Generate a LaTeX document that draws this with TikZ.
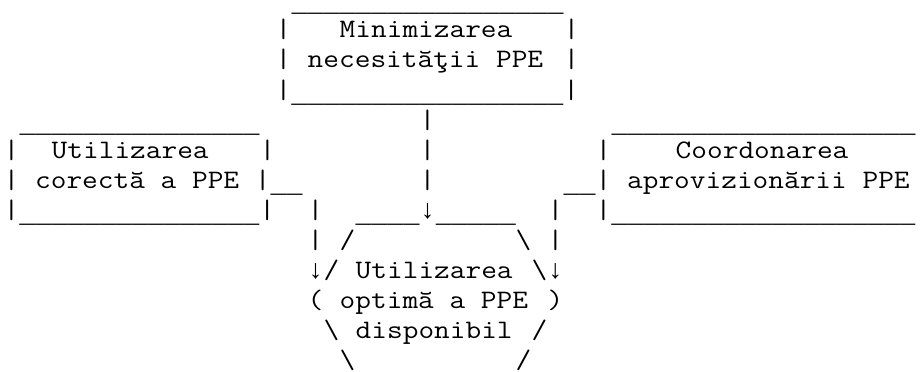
\documentclass[tikz,border=0pt]{standalone}
\usepackage{fontspec}
\usepackage{graphicx}
\newfontfamily\linefont{Liberation Mono}
\newcommand\cw[1]{\scalebox{1.142857}[1]{#1}}
\newcommand\unds[1]{\smash{\raisebox{-3pt}{\linefont\foreach \n in {1,...,#1}{\_}}}}
\newcommand\dn{{\linefont ↓}}

\begin{document}
\begin{tikzpicture}[x=12pt, y=22.5pt,
	ascii/.style={anchor=base west, inner sep=0pt, outer sep=0pt, font=\ttfamily\fontsize{20pt}{22.5pt}\selectfont}]
		\useasboundingbox (-0.2333,0.2667) rectangle (57.2667,-12.1);
		\node[ascii] (mintop) at (18,0) {\unds{17}};
		\node[ascii] (minleftA) at (17,-1) {\cw{|}};
		\node[ascii] (mintxtA) at (21,-1) {\cw{Minimizarea}};
		\node[ascii] (minrightA) at (35,-1) {\cw{|}};
		\node[ascii] (minleftB) at (17,-2) {\cw{|}};
		\node[ascii] (mintxtB) at (19,-2) {\cw{necesităţii PPE}};
		\node[ascii] (minrightB) at (35,-2) {\cw{|}};
		\node[ascii] (minbot) at (17,-3) {\cw{|}\unds{17}\cw{|}};
		\node[ascii] (cortop) at (1,-4) {\unds{15}};
		\node[ascii] (midA) at (26,-4) {\cw{|}};
		\node[ascii] (coordtop) at (38,-4) {\unds{19}};
		\node[ascii] (corleftA) at (0,-5) {\cw{|}};
		\node[ascii] (cortxtA) at (3,-5) {\cw{Utilizarea}};
		\node[ascii] (corrightA) at (16,-5) {\cw{|}};
		\node[ascii] (midB) at (26,-5) {\cw{|}};
		\node[ascii] (coordleftA) at (37,-5) {\cw{|}};
		\node[ascii] (coordtxtA) at (42,-5) {\cw{Coordonarea}};
		\node[ascii] (cortxtB) at (0,-6) {\cw{| corectă a PPE |}\unds{2}};
		\node[ascii] (midC) at (26,-6) {\cw{|}};
		\node[ascii] (coordtxtB) at (35,-6) {\unds{2}\cw{| aprovizionării PPE}};
		\node[ascii] (corbot) at (0,-7) {\cw{|}\unds{15}\cw{|}};
		\node[ascii] (leftA) at (19,-7) {\cw{|}};
		\node[ascii] (opttop) at (22,-7) {\unds{4}\dn\unds{5}};
		\node[ascii] (rightA) at (34,-7) {\cw{|}};
		\node[ascii] (coordbot) at (37,-7) {\cw{|}\unds{19}};
		\node[ascii] (leftB) at (19,-8) {\cw{|}};
		\node[ascii] (optleftA) at (21,-8) {\cw{/}};
		\node[ascii] (optrightA) at (32,-8) {\cw{\textbackslash}};
		\node[ascii] (rightB) at (34,-8) {\cw{|}};
		\node[ascii] (optleftB) at (19,-9) {\dn\cw{/}};
		\node[ascii] (opttxtA) at (22,-9) {\cw{Utilizarea}};
		\node[ascii] (optrightB) at (33,-9) {\cw{\textbackslash}\dn};
		\node[ascii] (optleftC) at (19,-10) {\cw{(}};
		\node[ascii] (opttxtB) at (21,-10) {\cw{optimă a PPE}};
		\node[ascii] (optrightC) at (34,-10) {\cw{)}};
		\node[ascii] (optleftD) at (20,-11) {\cw{\textbackslash}};
		\node[ascii] (opttxtC) at (22,-11) {\cw{disponibil}};
		\node[ascii] (optrightD) at (33,-11) {\cw{/}};
		\node[ascii] (optleftE) at (21,-12) {\cw{\textbackslash}};
		\node[ascii] (optrightE) at (32,-12) {\cw{/}};
		\end{tikzpicture}
\end{document}
